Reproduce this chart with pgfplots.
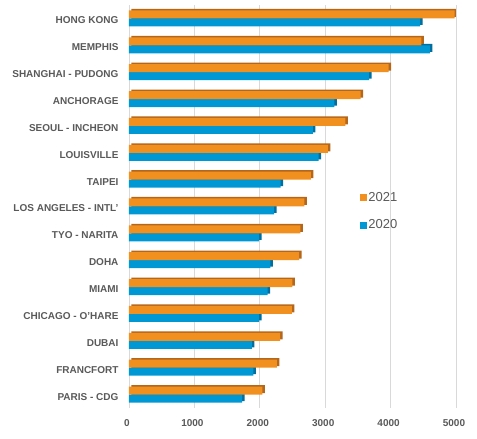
\documentclass[border=0pt]{standalone}
\usepackage{pgfplots}
\usepackage{pgfplotstable}
\pgfplotsset{compat=1.18}
\usepackage{fontspec}
\setmainfont{Liberation Sans}
\definecolor{org}{HTML}{F18F1F}
\definecolor{orgd}{HTML}{B4661A}
\definecolor{blu}{HTML}{0098D4}
\definecolor{blud}{HTML}{006E9E}
\definecolor{txt}{HTML}{595959}
\definecolor{grd}{HTML}{D9D9D9}
\pgfplotstableread{
y v21 v20
14 4980 4450
13 4470 4600
12 3970 3670
11 3540 3140
10 3310 2810
9 3040 2900
8 2780 2320
7 2680 2220
6 2620 1990
5 2600 2160
4 2500 2120
3 2490 1990
2 2310 1880
1 2260 1900
0 2040 1730
}\data
\begin{document}
\begin{tikzpicture}
\path[use as bounding box] (-129pt,-31pt) rectangle (348pt,408pt);
\begin{axis}[
 scale only axis, width=327pt, height=403pt,
 xmin=0, xmax=5000, ymin=-0.5, ymax=14.5,
 axis line style={draw=none},
 xmajorgrids, grid style={grd, line width=0.8pt},
 xtick={0,1000,...,5000},
 ytick={0,...,14},
 yticklabels={PARIS - CDG, FRANCFORT, DUBAI, CHICAGO - O'HARE, MIAMI, DOHA, TYO - NARITA, LOS ANGELES - INTL', TAIPEI, LOUISVILLE, SEOUL - INCHEON, ANCHORAGE, SHANGHAI - PUDONG, MEMPHIS, HONG KONG},
 major tick length=0pt,
 tick label style={font=\bfseries\fontsize{10}{12}\selectfont, text=txt},
 /pgf/number format/assume math mode=true,
 /pgf/number format/set thousands separator={},
 xticklabel style={yshift=-8pt, xshift=-2pt},
 yticklabel style={xshift=-7pt, yshift=-2pt},
 xbar, bar width=8pt,
 reverse legend,
 legend style={at={(axis cs:3530,6.82)}, anchor=west, draw=none, fill=none, inner sep=0pt,
   font=\fontsize{13}{15}\selectfont, text=txt, row sep=14pt, nodes={inner sep=1.5pt}},
 legend image code/.code={\fill[#1,draw=none] (0pt,-3.4pt) rectangle (6.8pt,3.4pt);},
]
\addplot[xbar, bar shift=-4pt, fill=blud, draw=none, xshift=2.5pt, yshift=1.5pt, forget plot] table[x=v20,y=y]{\data};
\addplot[xbar, bar shift=-4pt, fill=blu, draw=none] table[x=v20,y=y]{\data};
\addlegendentry{2020}
\addplot[xbar, bar shift=4pt, fill=orgd, draw=none, xshift=2.5pt, yshift=1.5pt, forget plot] table[x=v21,y=y]{\data};
\addplot[xbar, bar shift=4pt, fill=org, draw=none] table[x=v21,y=y]{\data};
\addlegendentry{2021}
\end{axis}
\end{tikzpicture}
\end{document}
